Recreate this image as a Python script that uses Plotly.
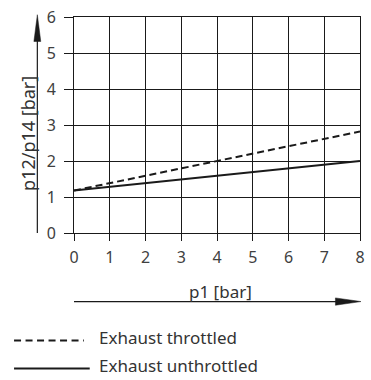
import plotly.graph_objects as go

# Data
p1 = [0, 8]
throttled = [1.18, 2.82]
unthrottled = [1.18, 2.0]
series_names = ["Exhaust throttled", "Exhaust unthrottled"]
x_ticks = [0, 1, 2, 3, 4, 5, 6, 7, 8]
y_ticks = [0, 1, 2, 3, 4, 5, 6]
x_title = "p1 [bar]"
y_title = "p12/p14 [bar]"

W, H = 371, 380
PL, PR, PT, PB = 74, 365, 15.3, 233.3   # plot area in reference pixels
ML, MR, MT, MB = PL, W - PR, PT, H - PB
pw = PR - PL
ph = PB - PT

def px_x(x):
    return (x - PL) / pw

def px_y(y):
    return (PB - y) / ph

INK = "#1a1a1a"
FAM = "Noto Sans, DejaVu Sans, sans-serif"
TICKFONT = dict(family=FAM, size=16, color="#404040")
YTITLEFONT = dict(family=FAM, size=18, color="#333")
XTITLEFONT = dict(family=FAM, size=17, color="#333")
TEXTFONT = dict(family=FAM, size=17, color="#333")

fig = go.Figure()
fig.add_trace(go.Scatter(x=p1, y=throttled, mode="lines", name=series_names[0],
                         line=dict(color=INK, width=2, dash="7px,4px"), showlegend=False,
                         hoverinfo="skip"))
fig.add_trace(go.Scatter(x=p1, y=unthrottled, mode="lines", name=series_names[1],
                         line=dict(color=INK, width=2), showlegend=False,
                         hoverinfo="skip"))

shapes = []
# y arrow
ax = px_x(36.7)
shapes.append(dict(type="line", xref="paper", yref="paper", x0=ax, x1=ax,
                   y0=px_y(233.3), y1=px_y(38), line=dict(color=INK, width=1.2)))
shapes.append(dict(type="path", xref="paper", yref="paper",
                   path=f"M {ax} {px_y(13)} L {px_x(33.2)} {px_y(40)} L {px_x(40.2)} {px_y(40)} Z",
                   fillcolor=INK, line=dict(color=INK, width=0.5)))
# x arrow
ay = px_y(302.5)
shapes.append(dict(type="line", xref="paper", yref="paper", x0=px_x(74), x1=px_x(342),
                   y0=ay, y1=ay, line=dict(color=INK, width=1.2)))
shapes.append(dict(type="path", xref="paper", yref="paper",
                   path=f"M {px_x(366)} {ay} L {px_x(340)} {px_y(298.8)} L {px_x(340)} {px_y(306.2)} Z",
                   fillcolor=INK, line=dict(color=INK, width=0.5)))
# legend samples
shapes.append(dict(type="line", xref="paper", yref="paper", x0=px_x(13), x1=px_x(84),
                   y0=px_y(341.7), y1=px_y(341.7), line=dict(color=INK, width=2, dash="7px,4.5px")))
shapes.append(dict(type="line", xref="paper", yref="paper", x0=px_x(13), x1=px_x(90),
                   y0=px_y(370), y1=px_y(370), line=dict(color=INK, width=2)))

annotations = [
    dict(text=y_title, xref="paper", yref="paper", x=px_x(26.5), y=px_y(133), textangle=-90,
         showarrow=False, font=YTITLEFONT, xanchor="center", yanchor="middle"),
    dict(text=x_title, xref="paper", yref="paper", x=px_x(223), y=px_y(292.5),
         showarrow=False, font=XTITLEFONT, xanchor="center", yanchor="middle"),
    dict(text=series_names[0], xref="paper", yref="paper", x=px_x(97), y=px_y(339),
         showarrow=False, font=TEXTFONT, xanchor="left", yanchor="middle"),
    dict(text=series_names[1], xref="paper", yref="paper", x=px_x(97), y=px_y(367.5),
         showarrow=False, font=TEXTFONT, xanchor="left", yanchor="middle"),
]

fig.update_layout(
    width=W, height=H,
    margin=dict(l=ML, r=MR, t=MT, b=MB, pad=0),
    paper_bgcolor="white", plot_bgcolor="white",
    shapes=shapes, annotations=annotations, showlegend=False,
    hovermode=False, dragmode=False,
)
fig.update_xaxes(range=[0, 8], tickvals=x_ticks, ticktext=[str(v) for v in x_ticks],
                 showgrid=True, gridcolor=INK, gridwidth=1, zeroline=False,
                 showline=True, linecolor=INK, linewidth=1, mirror=True,
                 ticks="outside", ticklen=7, tickcolor=INK, tickwidth=1,
                 tickfont=TICKFONT, ticklabelstandoff=3, ticklabeloverflow="allow")
fig.update_yaxes(range=[0, 6], tickvals=y_ticks, ticktext=[str(v) for v in y_ticks],
                 showgrid=True, gridcolor=INK, gridwidth=1, zeroline=False,
                 showline=True, linecolor=INK, linewidth=1, mirror=True,
                 ticks="outside", ticklen=9, tickcolor=INK, tickwidth=1,
                 tickfont=TICKFONT, ticklabelstandoff=5, ticklabeloverflow="allow")

fig.write_html("out.html",
               config={"displayModeBar": False, "staticPlot": True},
               post_script="document.body.style.margin='0';document.body.style.padding='0';")
